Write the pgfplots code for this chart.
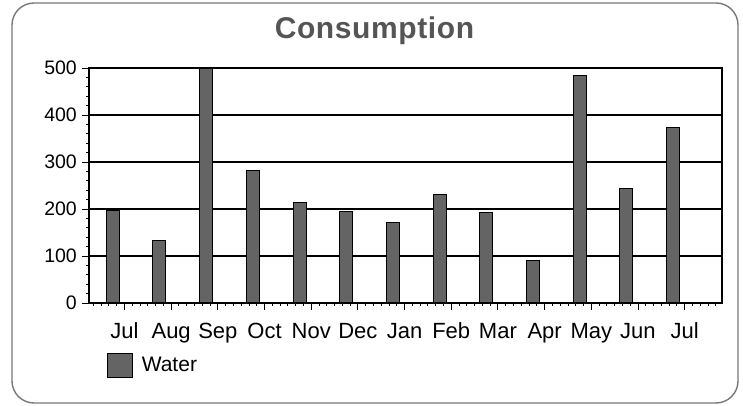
\documentclass[border=0pt]{standalone}
\usepackage{pgfplots}
\pgfplotsset{compat=1.18}
\usepackage{fontspec}
\setmainfont{Liberation Sans}
\definecolor{barfill}{RGB}{100,100,100}
\definecolor{titlegray}{RGB}{85,85,85}
\definecolor{framegray}{RGB}{120,120,120}
\begin{document}
\begin{tikzpicture}[x=1pt,y=1pt]
\useasboundingbox (0,0) rectangle (743,406);
\draw[framegray, line width=1.4pt, rounded corners=22pt] (12,3) rectangle (738,403);
\begin{axis}[
  at={(89pt,103pt)}, anchor=south west,
  scale only axis, width=633pt, height=235pt,
  xmin=-0.51, xmax=13.05,
  ymin=0, ymax=500,
  xtick={0.25,1.25,...,12.25},
  xticklabels={Jul,Aug,Sep,Oct,Nov,Dec,Jan,Feb,Mar,Apr,May,Jun,Jul},
  minor xtick={-0.41667,-0.25,...,13.0},
  ytick={0,100,...,500},
  minor ytick={20,40,...,480},
  xtick pos=bottom, ytick pos=left,
  tick align=outside,
  major tick length=7pt, minor tick length=3pt,
  tick style={black, line width=0.9pt},
  ymajorgrids, grid style={black, line width=1.3pt},
  axis line style={black, line width=2pt},
  /pgf/number format/assume math mode=true,
  yticklabel style={font=\fontsize{19.5}{19.5}\selectfont, inner sep=0pt, anchor=east, xshift=-5pt},
  xticklabel style={font=\fontsize{22}{22}\selectfont, inner sep=0pt, anchor=base},
  every x tick label/.append style={yshift=-29pt},
  title={\addfontfeatures{LetterSpace=2}\bfseries Consumption},
  title style={at={(axis description cs:0.451,1.098)}, anchor=base, font=\fontsize{30}{30}\selectfont, text=titlegray, inner sep=0pt},
  legend style={at={(axis description cs:0.0284,-0.264)}, anchor=west, draw=none, fill=none, inner sep=0pt,
    font=\fontsize{21}{21}\selectfont, nodes={inner sep=0pt}, column sep=9pt},
  legend image code/.code={\draw[black, line width=0.6pt, fill=barfill] (0pt,-12pt) rectangle (25pt,12pt);},
  clip=false,
]
\addplot[ybar, bar width=13pt, fill=barfill, draw=black, line width=1pt]
  coordinates {(0,197) (1,132) (2,500) (3,281) (4,213) (5,194) (6,172) (7,230) (8,193) (9,91) (10,483) (11,244) (12,374)};
\addlegendentry{Water}
\end{axis}
\end{tikzpicture}
\end{document}
